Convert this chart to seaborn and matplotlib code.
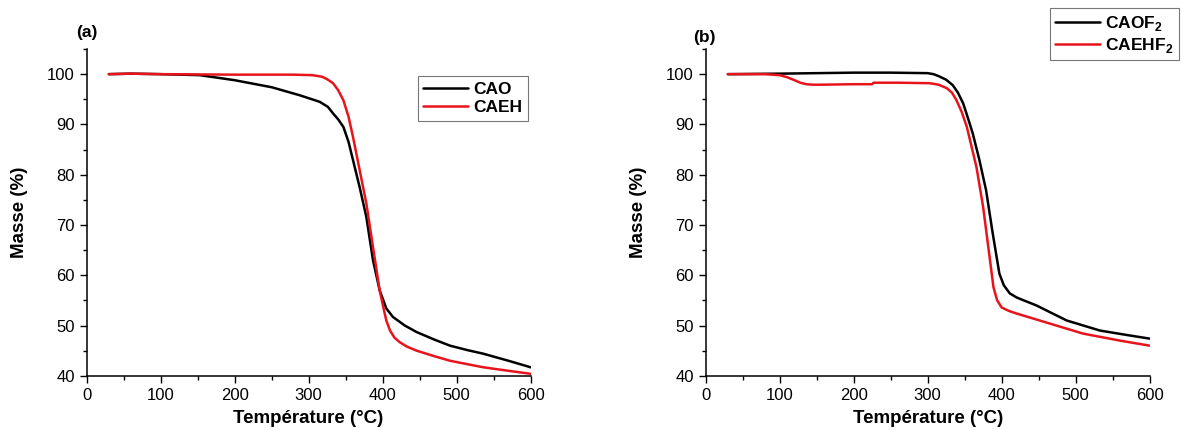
import numpy as np
import pandas as pd
import seaborn as sns
import matplotlib.pyplot as plt
from matplotlib.ticker import MultipleLocator

# Panel (a) - TGA curves
temp_cao = [30, 60, 100, 153, 200, 250, 288, 315, 326, 333, 340, 347, 354, 360, 369,
            378, 387, 396, 401, 405, 414, 430, 446, 470, 491, 515, 536, 570, 600]
mass_cao = [100, 100.1, 100, 99.8, 98.8, 97.4, 95.8, 94.5, 93.5, 92.2, 91.0, 89.5, 86.5,
            82.9, 77.5, 71.6, 63, 57, 55, 53.4, 51.7, 50.0, 48.7, 47.2, 46, 45.1, 44.4, 43.0, 41.7]
temp_caeh = [30, 60, 100, 200, 280, 305, 318, 325, 333, 340, 347, 354, 360, 369, 378,
             387, 396, 401, 405, 410, 416, 423, 433, 446, 470, 491, 515, 536, 570, 600]
mass_caeh = [100, 100.1, 100, 99.9, 99.9, 99.8, 99.5, 99.0, 98.2, 96.8, 94.8, 91.5, 87.5,
             80.9, 74.3, 65.6, 57, 53.6, 51.0, 49, 47.6, 46.7, 45.8, 45, 43.9, 43, 42.3,
             41.7, 41.0, 40.4]

# Panel (b)
temp_caof2 = [30, 100, 200, 250, 300, 308, 315, 325, 334, 341, 348, 354, 361, 370, 379,
              388, 397, 403, 411, 420, 430, 447, 488, 533, 570, 600]
mass_caof2 = [100, 100.1, 100.3, 100.3, 100.2, 100.0, 99.6, 98.9, 97.8, 96.3, 94.2, 91.5,
              88.2, 82.9, 76.9, 68.3, 60.3, 58.0, 56.4, 55.6, 55.0, 54, 51, 49, 48.1, 47.4]
temp_caehf2 = [30, 80, 100, 110, 120, 128, 136, 145, 154, 200, 225, 227, 260, 303, 315,
               326, 333, 339, 346, 353, 366, 375, 382, 389, 394, 400, 410, 420, 465, 510,
               560, 600]
mass_caehf2 = [100, 100, 99.8, 99.4, 98.8, 98.3, 98.0, 97.9, 97.9, 98.0, 98.0, 98.3, 98.3,
               98.2, 97.9, 97.2, 96.3, 94.8, 92.5, 89.5, 81.5, 73.6, 65.6, 57.6, 55.0,
               53.6, 52.9, 52.4, 50.4, 48.4, 47.0, 46.0]

sns.set_style("ticks")
plt.rcParams['font.family'] = ['Liberation Sans', 'DejaVu Sans']
plt.rcParams['mathtext.fontset'] = 'custom'
plt.rcParams['mathtext.rm'] = 'Liberation Sans:bold'
plt.rcParams['mathtext.bf'] = 'Liberation Sans:bold'
plt.rcParams['text.color'] = 'black'
plt.rcParams['axes.labelcolor'] = 'black'
plt.rcParams['axes.edgecolor'] = 'black'

fig = plt.figure(figsize=(11.82, 4.30), dpi=100)
ax_a = fig.add_axes([0.0733, 0.126, 0.3756, 0.76])
ax_b = fig.add_axes([0.597, 0.126, 0.3756, 0.76])

df_a = pd.concat([
    pd.DataFrame({'T': temp_cao, 'm': mass_cao, 's': 'CAO'}),
    pd.DataFrame({'T': temp_caeh, 'm': mass_caeh, 's': 'CAEH'}),
])
df_b = pd.concat([
    pd.DataFrame({'T': temp_caof2, 'm': mass_caof2, 's': r'CAOF$_\mathbf{2}$'}),
    pd.DataFrame({'T': temp_caehf2, 'm': mass_caehf2, 's': r'CAEHF$_\mathbf{2}$'}),
])

panels = [(ax_a, df_a, '(a)', -0.024, 1.051), (ax_b, df_b, '(b)', -0.029, 1.036)]
for ax, df, lab, lx, ly in panels:
    names = list(df['s'].unique())
    sns.lineplot(data=df, x='T', y='m', hue='s', palette=dict(zip(names, ['black', '#e8141c'])),
                 sort=False, estimator=None, linewidth=1.8, ax=ax)
    ax.set_xlim(0, 600)
    ax.set_ylim(40, 105)
    ax.set_yticks([40, 50, 60, 70, 80, 90, 100])
    ax.xaxis.set_minor_locator(MultipleLocator(50))
    ax.yaxis.set_minor_locator(MultipleLocator(5))
    ax.tick_params(which='major', direction='out', length=5, width=1, labelsize=12, colors='black')
    ax.tick_params(which='minor', direction='out', length=3, width=1, colors='black')
    sns.despine(ax=ax)
    ax.spines['left'].set_linewidth(1.1)
    ax.spines['bottom'].set_linewidth(1.1)
    ax.set_xlabel('Température (°C)', fontsize=13.5, fontweight='bold', labelpad=5)
    ax.set_ylabel('Masse (%)', fontsize=13.5, fontweight='bold', labelpad=14)
    ax.text(lx, ly, lab, transform=ax.transAxes, fontsize=12.5, fontweight='bold',
            ha='left', va='center')

leg_a = ax_a.legend(loc='upper left', bbox_to_anchor=(0.746, 0.9165), borderaxespad=0,
                    prop={'weight': 'bold', 'size': 12.5}, handlelength=2.6,
                    frameon=True, fancybox=False, borderpad=0.3, labelspacing=0.2,
                    handletextpad=0.3, title=None)
leg_b = ax_b.legend(loc='upper right', bbox_to_anchor=(1.066, 1.124), borderaxespad=0,
                    prop={'weight': 'bold', 'size': 12.5}, handlelength=2.6,
                    frameon=True, fancybox=False, borderpad=0.3, labelspacing=0.2,
                    handletextpad=0.3, title=None)
for leg in (leg_a, leg_b):
    leg.get_frame().set_edgecolor('#555555')
    leg.get_frame().set_linewidth(0.8)

fig.savefig('out.png', dpi=100)
